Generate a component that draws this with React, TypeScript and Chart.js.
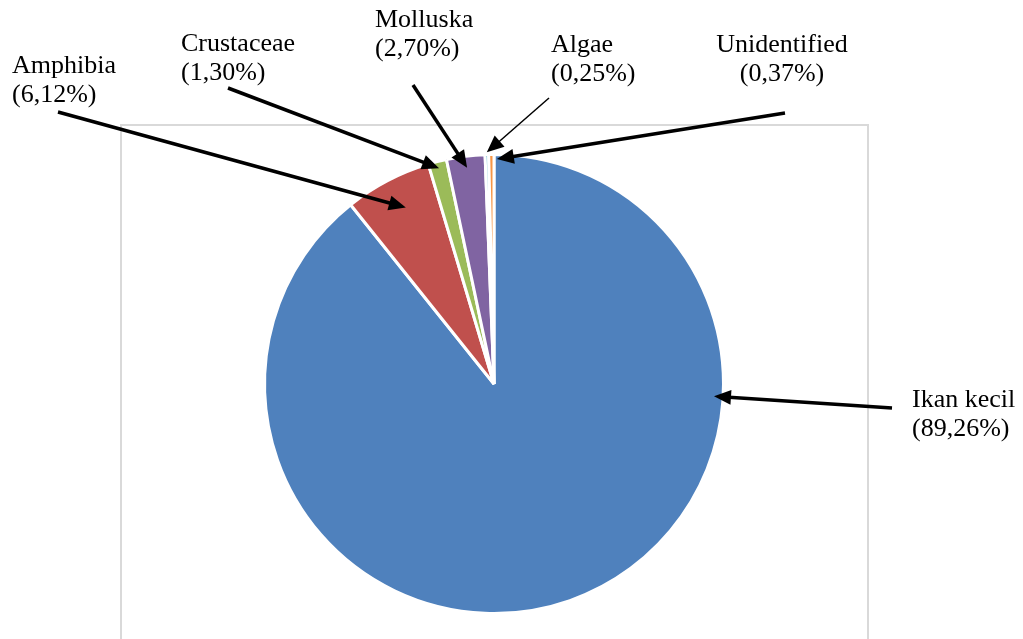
import React, { useEffect, useRef } from "react";
import { Chart, registerables } from "chart.js";

Chart.register(...registerables);

const categories = ["Ikan kecil", "Amphibia", "Crustaceae", "Molluska", "Algae", "Unidentified"];
const percentLabels = ["(89,26%)", "(6,12%)", "(1,30%)", "(2,70%)", "(0,25%)", "(0,37%)"];
const values = [89.26, 6.12, 1.3, 2.7, 0.25, 0.37];
const colors = ["#4F81BD", "#C0504D", "#9BBB59", "#8064A2", "#4BACC6", "#F79646"];

// label layout: text anchor, baseline of first line, alignment, leader start, tip position along slice (t) and radius fraction
const labelLayout = [
  { x: 912, y: 407, align: "left", sx: 892, sy: 408, t: 0.29, rf: 0.96, lw: 3.5 },
  { x: 12, y: 73, align: "left", sx: 58, sy: 112, t: 0.55, rf: 0.86, lw: 3.5 },
  { x: 181, y: 51, align: "left", sx: 228, sy: 88, t: 0.5, rf: 0.97, lw: 3.5 },
  { x: 375, y: 27, align: "left", sx: 413, sy: 85, t: 0.5, rf: 0.95, lw: 3.5 },
  { x: 551, y: 52, align: "left", sx: 549, sy: 98, t: 0.5, rf: 1.01, lw: 1.5 },
  { x: 782, y: 52, align: "center", sx: 785, sy: 113, t: 1.55, rf: 0.98, lw: 3.5 },
];

const FONT = "26px 'Liberation Serif', 'Times New Roman', serif";
const LINE_H = 29;

const annotationPlugin = {
  id: "annotations",
  beforeDatasetsDraw(chart: any) {
    const ctx = chart.ctx;
    const arc = chart.getDatasetMeta(0).data[0];
    if (!arc) return;
    const cx = arc.x;
    const cy = arc.y;
    ctx.save();
    ctx.strokeStyle = "#D9D9D9";
    ctx.lineWidth = 2;
    ctx.beginPath();
    const left = cx - 373;
    const right = cx + 374;
    const top = 125;
    ctx.moveTo(left, chart.height + 5);
    ctx.lineTo(left, top);
    ctx.lineTo(right, top);
    ctx.lineTo(right, chart.height + 5);
    ctx.stroke();
    ctx.restore();
  },
  afterDatasetsDraw(chart: any) {
    const ctx = chart.ctx;
    const meta = chart.getDatasetMeta(0);
    ctx.save();
    meta.data.forEach((el: any, i: number) => {
      const L = labelLayout[i];
      const a = el.startAngle + L.t * (el.endAngle - el.startAngle);
      const tx = el.x + Math.cos(a) * el.outerRadius * L.rf;
      const ty = el.y + Math.sin(a) * el.outerRadius * L.rf;
      const dx = tx - L.sx;
      const dy = ty - L.sy;
      const len = Math.hypot(dx, dy);
      const ux = dx / len;
      const uy = dy / len;
      const headLen = 17;
      const headW = 7.5;
      const bx = tx - ux * headLen;
      const by = ty - uy * headLen;
      ctx.strokeStyle = "#000";
      ctx.fillStyle = "#000";
      ctx.lineWidth = L.lw;
      ctx.beginPath();
      ctx.moveTo(L.sx, L.sy);
      ctx.lineTo(bx + ux * 2, by + uy * 2);
      ctx.stroke();
      ctx.beginPath();
      ctx.moveTo(tx, ty);
      ctx.lineTo(bx - uy * headW, by + ux * headW);
      ctx.lineTo(bx + uy * headW, by - ux * headW);
      ctx.closePath();
      ctx.fill();

      ctx.font = FONT;
      ctx.textAlign = L.align;
      ctx.textBaseline = "alphabetic";
      ctx.fillText(categories[i], L.x, L.y);
      ctx.fillText(percentLabels[i], L.x, L.y + LINE_H);
    });
    ctx.restore();
  },
};

export default function App() {
  const ref = useRef<HTMLCanvasElement>(null);
  useEffect(() => {
    if (!ref.current) return;
    const chart = new Chart(ref.current, {
      type: "pie",
      data: {
        labels: categories,
        datasets: [
          {
            data: values,
            backgroundColor: colors,
            borderColor: "#FFFFFF",
            borderWidth: 3,
          },
        ],
      },
      options: {
        responsive: false,
        animation: false,
        events: [],
        layout: { padding: { left: 263, right: 298, top: 153, bottom: 24 } },
        plugins: {
          legend: { display: false },
          tooltip: { enabled: false },
        },
      },
      plugins: [annotationPlugin],
    });
    return () => chart.destroy();
  }, []);
  return (
    <div style={{ position: "fixed", left: 0, top: 0, width: 1023, height: 639, background: "#fff" }}>
      <canvas ref={ref} width={1023} height={639} style={{ display: "block" }} />
    </div>
  );
}
